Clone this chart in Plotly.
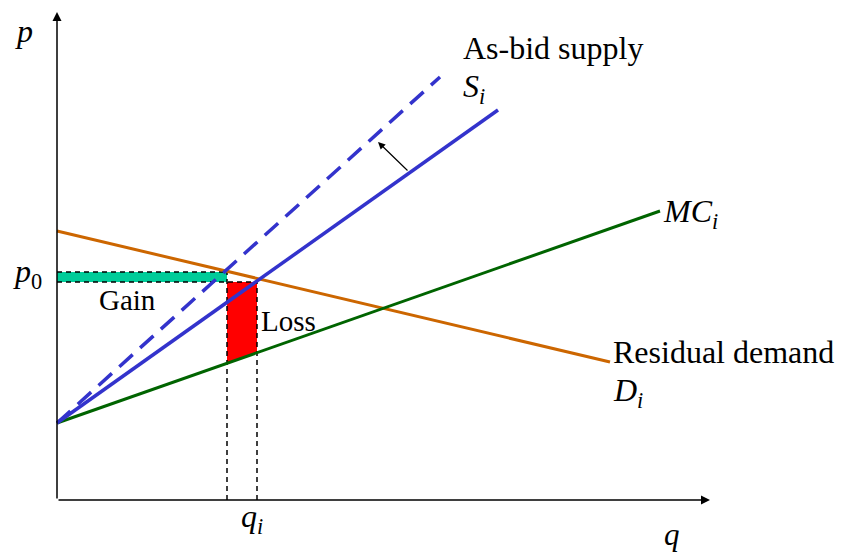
import plotly.graph_objects as go

# ---- data (diagram units: q to the right, p upward, origin at axes corner) ----
axis_q_end = [0, 653]
axis_p_end = [0, 488]

mc_q = [0, 603]
mc_p = [77, 289]

demand_q = [0, 553]
demand_p = [269, 138]

supply_q = [0, 441]
supply_p = [77, 390]

bid_q = [0, 383]
bid_p = [77, 423]

q_marks = [170, 200]      # quantity at as-bid intersection, q_i
p_marks = [228, 218]      # p0 (top), price at q_i (bottom)

shift_arrow_tail = [352, 328]
shift_arrow_head = [321, 358]


def interp(line_q, line_p, q):
    return line_p[0] + (line_p[1] - line_p[0]) * (q - line_q[0]) / (line_q[1] - line_q[0])


SERIF = "Liberation Serif"
fig = go.Figure()

# Gain area (teal)
fig.add_trace(go.Scatter(
    x=[0, q_marks[0], q_marks[0], 0, 0],
    y=[p_marks[1], p_marks[1], p_marks[0], p_marks[0], p_marks[1]],
    fill="toself", fillcolor="#00CC99", mode="lines",
    line=dict(width=0), hoverinfo="skip", showlegend=False))

# Loss area (red)
fig.add_trace(go.Scatter(
    x=[q_marks[0], q_marks[1], q_marks[1], q_marks[0], q_marks[0]],
    y=[p_marks[1], p_marks[1], interp(mc_q, mc_p, q_marks[1]),
       interp(mc_q, mc_p, q_marks[0]), p_marks[1]],
    fill="toself", fillcolor="#FF0000", mode="lines",
    line=dict(width=0), hoverinfo="skip", showlegend=False))

# dashed black guide lines
dash_style = dict(color="black", width=1.5, dash="5px,4px")
guides = [
    ([0, q_marks[0]], [p_marks[0], p_marks[0]]),
    ([0, q_marks[1]], [p_marks[1], p_marks[1]]),
    ([q_marks[0], q_marks[0]], [0, p_marks[0]]),
    ([q_marks[1], q_marks[1]], [0, p_marks[1]]),
]
for gx, gy in guides:
    fig.add_trace(go.Scatter(x=gx, y=gy, mode="lines", line=dash_style,
                             hoverinfo="skip", showlegend=False))

# curves
fig.add_trace(go.Scatter(x=demand_q, y=demand_p, mode="lines",
                         line=dict(color="#CC6600", width=3), showlegend=False))
fig.add_trace(go.Scatter(x=mc_q, y=mc_p, mode="lines",
                         line=dict(color="#006400", width=3), showlegend=False))
fig.add_trace(go.Scatter(x=bid_q, y=bid_p, mode="lines",
                         line=dict(color="#3333CC", width=3.5, dash="18px,10px"),
                         showlegend=False))
fig.add_trace(go.Scatter(x=supply_q, y=supply_p, mode="lines",
                         line=dict(color="#3333CC", width=3.5), showlegend=False))

annotations = []
# axes with arrows
for tip in [(axis_q_end[1], 0), (0, axis_p_end[1])]:
    annotations.append(dict(x=tip[0], y=tip[1], ax=0, ay=0, xref="x", yref="y",
                            axref="x", ayref="y", text="", showarrow=True,
                            arrowhead=2, arrowsize=1.2, arrowwidth=1.5,
                            arrowcolor="black"))
# shift arrow
annotations.append(dict(x=shift_arrow_head[0], y=shift_arrow_head[1],
                        ax=shift_arrow_tail[0], ay=shift_arrow_tail[1],
                        xref="x", yref="y", axref="x", ayref="y", text="",
                        showarrow=True, arrowhead=2, arrowsize=1.2,
                        arrowwidth=1.2, arrowcolor="black"))

big = 32
small = 29
labels = [
    ("<i>p</i>", -44, 469, "left", big),
    ("<i>q</i>", 605, -34, "left", 31),
    ("<i>q<sub>i</sub></i>", 182, -18, "left", big),
    ("<i>p</i><sub>0</sub>", -46, 227, "left", big),
    ("Gain", 40, 200, "left", small),
    ("Loss", 202, 179, "left", small),
    ("As-bid supply", 404, 452, "left", big),
    ("<i>S<sub>i</sub></i>", 404, 412, "left", big),
    ("<i>MC<sub>i</sub></i>", 604, 287, "left", big),
    ("Residual demand", 554, 148, "left", big),
    ("<i>D<sub>i</sub></i>", 554, 108, "left", big),
]
for txt, lx, ly, anc, size in labels:
    annotations.append(dict(x=lx, y=ly, xref="x", yref="y", text=txt,
                            showarrow=False, xanchor=anc, yanchor="middle",
                            font=dict(family=SERIF, size=size, color="black")))

# page body has an 8px margin: the figure starts at page pixel (8, 8)
fig.update_layout(
    width=840, height=544,
    margin=dict(l=0, r=0, t=0, b=0),
    paper_bgcolor="white", plot_bgcolor="white",
    xaxis=dict(range=[-49, 791], visible=False, fixedrange=True),
    yaxis=dict(range=[-52, 492], visible=False, fixedrange=True),
    annotations=annotations,
)

fig.write_html("out.html")
